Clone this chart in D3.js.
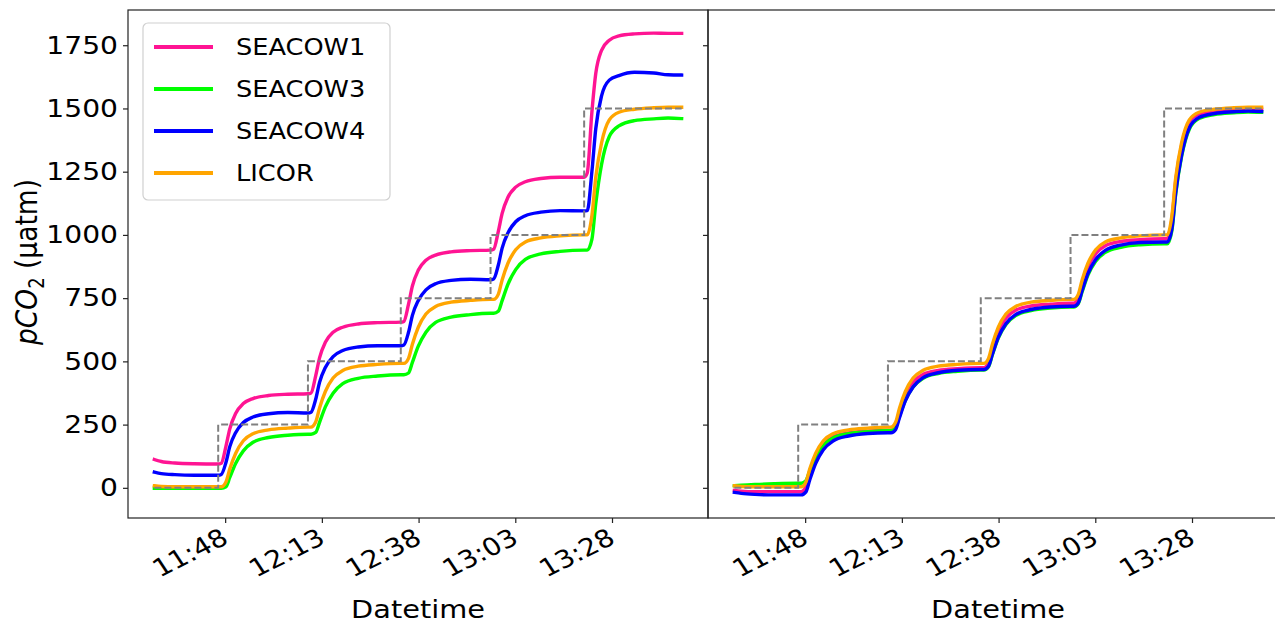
<!DOCTYPE html>
<html>
<head>
<meta charset="utf-8">
<script src="https://cdn.jsdelivr.net/npm/d3@7"></script>
<style>
  html, body { margin: 0; padding: 0; background: #fff; }
  svg { display: block; font-family: "DejaVu Sans", sans-serif; }
</style>
</head>
<body>
<svg id="chart" width="1275" height="624"></svg>
<script>
// ---- data (minutes after 11:00) ----
const times = [29.7, 31.5, 35, 40, 46.2,
  47.0, 48.2, 49.2, 50.7, 52.7, 55.2, 59.2, 64.2, 69.4,
  70.2, 71.4, 72.4, 73.9, 75.9, 78.4, 82.4, 87.4, 93.4,
  94.2, 95.4, 96.4, 97.9, 99.9, 102.4, 106.4, 111.4, 116.6,
  117.4, 118.6, 119.6, 121.1, 123.1, 125.6, 129.6, 134.6, 140.8,
  141.6, 142.8, 143.8, 145.3, 147.3, 149.8, 153.8, 158.8, 162.5, 166.0];

const seacow1Raw = [112, 104, 98, 95, 94,
  97, 164, 233, 294, 333, 353, 365, 370, 372,
  375, 443, 514, 576, 615, 635, 648, 653, 655,
  658, 726, 798, 860, 900, 920, 933, 938, 940,
  943, 1013, 1085, 1149, 1189, 1210, 1223, 1228, 1228,
  1245, 1485, 1638, 1730, 1770, 1787, 1795, 1798, 1797, 1797];
const seacow3Raw = [-2, -2, -2, -2, -2,
  -2, 4, 41, 96, 146, 180, 199, 208, 212,
  212, 219, 259, 320, 374, 412, 433, 442, 447,
  447, 454, 496, 559, 615, 654, 675, 685, 690,
  690, 698, 740, 805, 863, 903, 925, 935, 940,
  940, 982, 1123, 1279, 1389, 1431, 1452, 1459, 1462, 1460];
const seacow4Raw = [62, 56, 52, 50, 50,
  53, 100, 163, 218, 258, 280, 293, 298, 296,
  299, 350, 417, 476, 519, 543, 557, 562, 562,
  565, 615, 682, 740, 783, 807, 820, 825, 823,
  826, 880, 948, 1008, 1052, 1076, 1090, 1096, 1095,
  1096, 1250, 1420, 1550, 1612, 1630, 1643, 1640, 1633, 1632];
const licor = [8, 5, 4, 4, 4,
  4, 23, 75, 136, 186, 214, 229, 236, 240,
  240, 260, 316, 381, 434, 464, 481, 488, 492,
  492, 512, 568, 634, 687, 717, 734, 741, 745,
  745, 765, 822, 888, 941, 972, 988, 996, 1000,
  1000, 1076, 1227, 1364, 1455, 1485, 1497, 1503, 1505, 1505];

const seacow1Cor = [-10, -13, -15, -15, -15,
  -15, 4, 58, 121, 172, 201, 217, 224, 228,
  228, 248, 302, 366, 418, 448, 464, 471, 475,
  475, 495, 552, 618, 671, 702, 719, 726, 730,
  730, 750, 807, 873, 926, 957, 974, 981, 985,
  985, 1062, 1216, 1354, 1447, 1477, 1490, 1495, 1497, 1497];
const seacow3Cor = [8, 10, 13, 16, 18,
  18, 28, 68, 122, 168, 197, 214, 222, 226,
  226, 238, 284, 346, 399, 432, 452, 461, 466,
  466, 479, 526, 591, 646, 681, 701, 711, 715,
  715, 728, 775, 841, 896, 931, 951, 961, 965,
  965, 1017, 1163, 1309, 1418, 1460, 1476, 1483, 1486, 1485];
const seacow4Cor = [-18, -22, -26, -28, -28,
  -28, -16, 32, 96, 151, 185, 205, 215, 218,
  218, 231, 278, 344, 399, 435, 455, 465, 468,
  468, 481, 528, 594, 649, 685, 705, 715, 718,
  718, 731, 780, 847, 903, 939, 960, 970, 972,
  972, 1024, 1169, 1314, 1423, 1464, 1480, 1487, 1490, 1488];

const refTimes = [29.7, 46.2, 69.4, 93.4, 116.6, 140.8, 166.0];
const refValues = [0, 250, 500, 750, 1000, 1500, 1500];

const seriesNames = ["SEACOW1", "SEACOW3", "SEACOW4", "LICOR"];
const seriesColors = ["#FF1493", "#00FF00", "#0000FF", "#FFA500"];
const xTickLabels = ["11:48", "12:13", "12:38", "13:03", "13:28"];
const yTicks = [0, 250, 500, 750, 1000, 1250, 1500, 1750];

// ---- helpers ----
const base = new Date(2023, 0, 1, 11, 0, 0);
const toDate = m => new Date(base.getTime() + m * 60000);
const parseHM = s => { const [h, mm] = s.split(":").map(Number); return new Date(2023, 0, 1, h, mm, 0); };
const SX = 1.15; // horizontal glyph stretch seen in the reference

const svg = d3.select("#chart");
const W = 580, plotTop = 10, plotBottom = 518;
const panels = [
  { x0: 128, series: [seacow1Raw, seacow3Raw, seacow4Raw, licor], legend: true, ylabels: true },
  { x0: 708, series: [seacow1Cor, seacow3Cor, seacow4Cor, licor], legend: false, ylabels: false }
];

const allVals = [].concat(seacow1Raw, seacow3Raw, seacow4Raw, licor, seacow1Cor, seacow3Cor, seacow4Cor);
const yMin = d3.min(allVals), yMax = d3.max(allVals);
const yPad = (yMax - yMin) * 0.05;
const y = d3.scaleLinear().domain([yMin - yPad, yMax + yPad]).range([plotBottom, plotTop]);

const tMin = d3.min(times), tMax = d3.max(times), tPad = (tMax - tMin) * 0.05;

panels.forEach(p => {
  const x = d3.scaleTime().domain([toDate(tMin - tPad), toDate(tMax + tPad)]).range([p.x0, p.x0 + W]);
  const g = svg.append("g");

  const line = d3.line().x((d, i) => x(toDate(times[i]))).y(d => y(d)).curve(d3.curveMonotoneX);
  p.series.forEach((vals, k) => {
    g.append("path").datum(vals).attr("d", line)
      .attr("fill", "none").attr("stroke", seriesColors[k])
      .attr("stroke-width", 3.4).attr("stroke-linejoin", "round").attr("stroke-linecap", "square");
  });
  const refLine = d3.line().x((d, i) => x(toDate(refTimes[i]))).y(d => y(d)).curve(d3.curveStepAfter);
  g.append("path").datum(refValues).attr("d", refLine)
    .attr("fill", "none").attr("stroke", "#808080").attr("stroke-width", 2)
    .attr("stroke-dasharray", "7,3");

  g.append("rect").attr("x", p.x0).attr("y", plotTop).attr("width", W).attr("height", plotBottom - plotTop)
    .attr("fill", "none").attr("stroke", "#222").attr("stroke-width", 1.2);

  const yAx = d3.axisLeft(y).tickValues(yTicks).tickSize(5).tickPadding(5)
    .tickFormat(p.ylabels ? d3.format("d") : "");
  const ya = g.append("g").attr("transform", `translate(${p.x0},0)`).call(yAx);
  ya.select(".domain").remove();
  ya.selectAll("line").attr("stroke", "#222").attr("stroke-width", 1.2);
  ya.selectAll("text").attr("font-size", 24.5).attr("fill", "#000").attr("font-family", "DejaVu Sans")
    .attr("x", -10 / SX).attr("transform", `scale(${SX},1)`);

  const xt = xTickLabels.map(parseHM);
  const xAx = d3.axisBottom(x).tickValues(xt).tickSize(5).tickFormat(d3.timeFormat("%H:%M"));
  const xa = g.append("g").attr("transform", `translate(0,${plotBottom})`).call(xAx);
  xa.select(".domain").remove();
  xa.selectAll("line").attr("stroke", "#222").attr("stroke-width", 1.2);
  xa.selectAll("text")
    .attr("font-size", 24.5).attr("fill", "#000").attr("font-family", "DejaVu Sans")
    .attr("text-anchor", "end").attr("y", 0).attr("dy", "0.73em")
    .attr("transform", `translate(-6,9) scale(${SX},1) rotate(-30)`);

  g.append("text").attr("transform", `translate(${p.x0 + W / 2},618) scale(1.2,1)`)
    .attr("text-anchor", "middle").attr("font-size", 24).text("Datetime");

  if (p.legend) {
    const lg = g.append("g");
    lg.append("rect").attr("x", 143).attr("y", 23).attr("width", 247).attr("height", 177)
      .attr("rx", 5).attr("fill", "#fff").attr("fill-opacity", 0.85)
      .attr("stroke", "#d0d0d0").attr("stroke-width", 1.2);
    seriesNames.forEach((n, k) => {
      const yy = 47 + k * 42;
      lg.append("line").attr("x1", 154).attr("x2", 213).attr("y1", yy).attr("y2", yy)
        .attr("stroke", seriesColors[k]).attr("stroke-width", 3.8);
      lg.append("text").attr("transform", `translate(236,${yy}) scale(1.14,1)`).attr("dy", "0.36em")
        .attr("font-size", 22.5).text(n);
    });
  }
});

const yl = svg.append("text").attr("transform", `translate(37,262) scale(1.15,1) rotate(-90)`)
  .attr("text-anchor", "middle").attr("font-size", 26.5);
yl.append("tspan").attr("font-style", "italic").text("pCO");
yl.append("tspan").attr("font-size", 18).attr("dy", 6).text("2");
yl.append("tspan").attr("dy", -6).text(" (µatm)");
</script>
</body>
</html>
